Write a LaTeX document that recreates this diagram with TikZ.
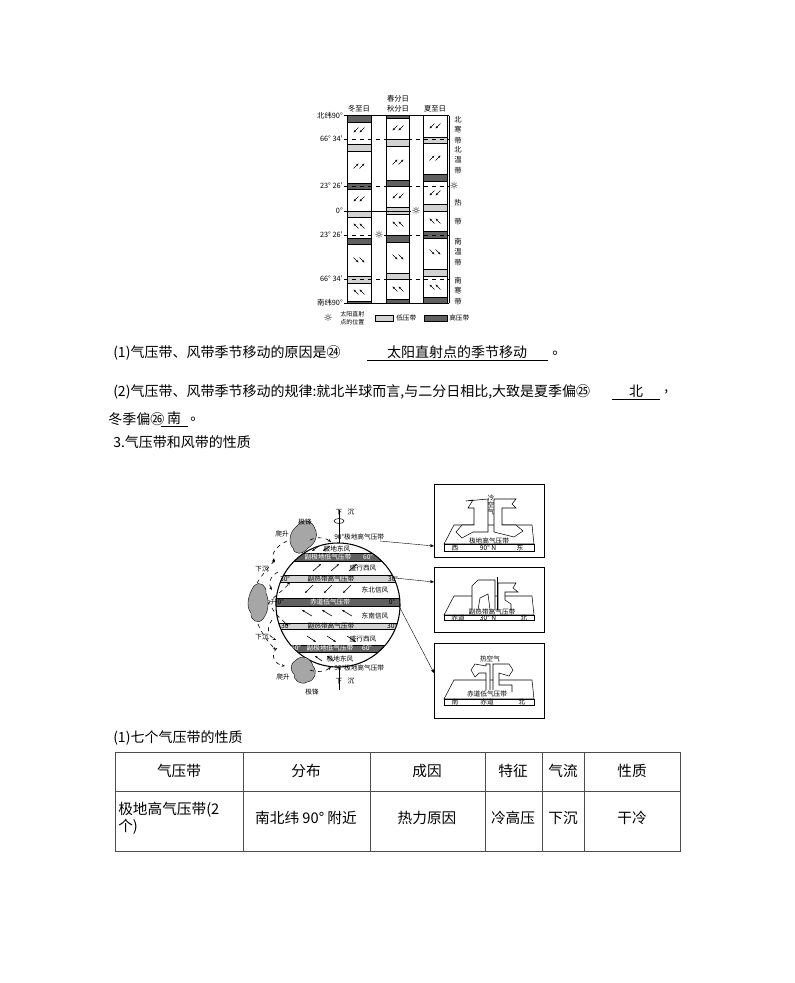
\documentclass[tikz,border=0pt]{standalone}
\usepackage{fontspec}
\setmainfont{Noto Sans CJK SC}
\newfontfamily\symfont{DejaVu Sans}
\usetikzlibrary{arrows.meta}
\begin{document}
\begin{tikzpicture}[x=0.75pt,y=-0.75pt,
  tiny/.style={font=\fontsize{5}{5.5}\selectfont,inner sep=0pt},
  small/.style={font=\fontsize{5.5}{6}\selectfont,inner sep=0pt},
  vsmall/.style={font=\fontsize{5.5}{8}\selectfont,inner sep=0pt,align=center},
  body/.style={font=\fontsize{10.5}{12}\selectfont,inner sep=0pt,anchor=west},
  cell/.style={font=\fontsize{11}{13}\selectfont,inner sep=0pt,align=center},
  lowp/.style={fill=gray!35,draw=black,line width=0.3pt},
  highp/.style={fill=gray!75!black,draw=black,line width=0.3pt},
  dl/.style={dashed,line width=0.5pt},
  wa/.style={-{Stealth[length=2pt,width=1.6pt]},line width=0.45pt},
  conn/.style={-{Stealth[length=3pt,width=2.4pt]},line width=0.3pt},
  box/.style={draw,line width=0.6pt},
  blk/.style={draw,fill=white,line width=0.4pt},
  sun/.style={font=\symfont\fontsize{7.5}{7.5}\selectfont,inner sep=0pt,fill=white}]
\useasboundingbox (0,0) rectangle (794,983);
% ===== top diagram =====
\foreach \x/\n in {347.5/a,386/b,423.5/c}{
  \draw[line width=0.6pt] (\x,115.5) rectangle ++(23.5,187.5);}
\draw[highp] (347.5,115.5) rectangle (371,122);
\draw[lowp] (347.5,144) rectangle (371,151);
\draw[highp] (347.5,183) rectangle (371,189);
\draw[lowp] (347.5,211) rectangle (371,217);
\draw[highp] (347.5,238) rectangle (371,244);
\draw[lowp] (347.5,276) rectangle (371,283);
\draw[highp] (347.5,301) rectangle (371,303);
\draw[highp] (386,115.5) rectangle (409.5,118);
\draw[lowp] (386,139) rectangle (409.5,146);
\draw[highp] (386,180) rectangle (409.5,186);
\draw[lowp] (386,207) rectangle (409.5,214);
\draw[highp] (386,235) rectangle (409.5,242);
\draw[lowp] (386,273) rectangle (409.5,279);
\draw[highp] (386,299) rectangle (409.5,303);
\draw[lowp] (423.5,137) rectangle (447,143);
\draw[highp] (423.5,174) rectangle (447,181);
\draw[lowp] (423.5,204) rectangle (447,211);
\draw[highp] (423.5,231) rectangle (447,238);
\draw[lowp] (423.5,269) rectangle (447,276);
\draw[highp] (423.5,297) rectangle (447,303);
\draw[line width=0.6pt] (344,115.5) -- (449,115.5);
\draw[line width=0.6pt] (344,303) -- (449,303);
\draw[line width=0.6pt] (449,115.5) -- (449,303);
\draw[line width=0.5pt] (344,211) -- (411,211);
\foreach \y in {139,186,235,279}{\draw[dl] (344,\y) -- (449,\y);}
\foreach \x/\ys in {359/{130,166,199,226,260,292},398/{128,162,196,224,257,289},435/{126,158,193,221,252,287}}{
  \foreach \y [count=\i] in \ys {
    \ifcase\i\or\def\ang{135}\or\def\ang{-45}\or\def\ang{135}\or\def\ang{225}\or\def\ang{45}\or\def\ang{225}\fi
    \foreach \dx in {-3,3}{
      \draw[wa] (\x+\dx,\y) ++(\ang+180:3.5) -- ++(\ang:7);}
  }}
\foreach \y/\t in {115.5/北纬90°,139/66° 34′,186/23° 26′,211/0°,235/23° 26′,279/66° 34′,303/南纬90°}{
  \node[small,anchor=east] (l\y) at (343,\y) {\t};}
\node[small] (h1) at (359,109) {冬至日};
\node[small] (h2a) at (398,99) {春分日};
\node[small] (h2b) at (398,109) {秋分日};
\node[small] (h3) at (435,109) {夏至日};
\node[vsmall] (z1) at (458,130) {北\\寒\\带};
\node[vsmall] (z2) at (458,160) {北\\温\\带};
\node[small] (z3a) at (458,203) {热};
\node[small] (z3b) at (458,222) {带};
\node[vsmall] (z4) at (458,252) {南\\温\\带};
\node[vsmall] (z5) at (458,291) {南\\寒\\带};
\node[sun] (s1) at (379,235) {☼};
\node[sun] (s2) at (416,211) {☼};
\node[sun] (s3) at (454,186) {☼};
\node[sun,fill=none] (s4) at (328,318) {☼};
\node[font=\fontsize{4.5}{6}\selectfont,inner sep=0pt,align=left,anchor=west] (lg1) at (340,318) {太阳直射\\点的位置};
\draw[lowp] (375,315) rectangle (393,321);
\node[tiny,anchor=west] (lg2) at (396,318) {低压带};
\draw[highp] (424,315) rectangle (447,321);
\node[tiny,anchor=west] (lg3) at (449,318) {高压带};
% ===== text =====
\node[body] (t1) at (113,353) {(1)气压带、风带季节移动的原因是㉔};
\node[body,anchor=center] (t1a) at (457,352) {太阳直射点的季节移动};
\draw[line width=0.5pt] (367,360) -- (548,360);
\node[body] (t1b) at (552,353) {。};
\node[body] (t2) at (113,392) {(2)气压带、风带季节移动的规律:就北半球而言,与二分日相比,大致是夏季偏㉕};
\node[body,anchor=center] (t2a) at (636,391) {北};
\draw[line width=0.5pt] (612,399) -- (660,399);
\node[body] (t2b) at (664,392) {,};
\node[body] (t3) at (108,419) {冬季偏㉖};
\node[body,anchor=center] (t3a) at (174,418) {南};
\draw[line width=0.5pt] (161,426) -- (188,426);
\node[body] (t3b) at (190,419) {。};
\node[body] (t4) at (113,442) {3.气压带和风带的性质};
% ===== globe =====
\begin{scope}
\clip (338,605) circle (62);
\fill[gray!75!black] (270,553) rectangle (410,561);
\fill[gray!35] (270,575) rectangle (410,582);
\fill[gray!75!black] (270,598) rectangle (410,606);
\fill[gray!35] (270,623) rectangle (410,629);
\fill[gray!75!black] (270,645) rectangle (410,652);
\foreach \y in {553,561,575,582,598,606,623,629,645,652}{\draw[line width=0.3pt](270,\y)--(410,\y);}
\end{scope}
\draw[line width=0.8pt] (338,605) circle (62);
\draw[line width=0.5pt] (339,510) -- (339,543);
\draw[line width=0.5pt] (339,667) -- (339,690);
\draw[line width=0.4pt] (339,521) ellipse (5 and 2.5);
\node[tiny] (xc1) at (345,512) {下\hspace{4pt}沉};
\node[tiny] (xc2) at (345,681) {下\hspace{4pt}沉};
\node[tiny,anchor=west] (b0) at (334,537) {90°极地高气压带};
\node[tiny] (b1) at (337,549) {极地东风};
\node[tiny,text=white] (b2l) at (291,557) {60°};
\node[tiny,text=white] (b2) at (328,557) {副极地低气压带};
\node[tiny,text=white] (b2r) at (368,557) {60°};
\node[tiny] (b3) at (363,568) {盛行西风};
\node[tiny] (b4l) at (285,579) {30°};
\node[tiny] (b4) at (331,579) {副热带高气压带};
\node[tiny] (b4r) at (393,579) {30°};
\node[tiny] (b5) at (375,590) {东北信风};
\node[tiny,anchor=east] (b6l) at (284,602) {上升0°};
\node[tiny,text=white] (b6) at (330,602) {赤道低气压带};
\node[tiny] (b6r) at (392,602) {0°};
\node[tiny] (b7) at (375,616) {东南信风};
\node[tiny] (b8l) at (286,626) {30°};
\node[tiny] (b8) at (331,626) {副热带高气压带};
\node[tiny] (b8r) at (392,626) {30°};
\node[tiny] (b9) at (363,639) {盛行西风};
\node[tiny,text=white] (b10l) at (296,648) {60°};
\node[tiny,text=white] (b10) at (330,648) {副极地低气压带};
\node[tiny,text=white] (b10r) at (367,648) {60°};
\node[tiny] (b11) at (340,659) {极地东风};
\node[tiny,anchor=west] (b12) at (334,668) {90°极地高气压带};
\foreach \x in {315,326}{\draw[wa] (\x+4,546) -- (\x-3,551);}
\foreach \x in {318,336,354}{\draw[wa] (\x-5,571) -- (\x+3,564);}
\foreach \x in {308,327,346}{\draw[wa] (\x+5,585) -- (\x-3,593);}
\foreach \x in {306,326,346}{\draw[wa] (\x+6,616) -- (\x-4,610);}
\foreach \x in {312,332,352}{\draw[wa] (\x-5,636) -- (\x+4,642);}
\foreach \x in {318,330}{\draw[wa] (\x+4,661) -- (\x-3,656);}
% clouds
\fill[gray!70,draw=black,line width=0.3pt] (297,526) .. controls (303,517) and (313,521) .. (315,529)
  .. controls (319,536) and (314,545) .. (308,548) .. controls (303,555) and (294,555) .. (293,548)
  .. controls (288,543) and (289,532) .. cycle;
\fill[gray!70,draw=black,line width=0.3pt] (254,586) .. controls (260,580) and (267,586) .. (266,593)
  .. controls (270,602) and (268,613) .. (263,619) .. controls (258,625) and (250,620) .. (251,613)
  .. controls (245,606) and (249,593) .. cycle;
\fill[gray!70,draw=black,line width=0.3pt] (296,660) .. controls (302,654) and (311,658) .. (313,666)
  .. controls (318,672) and (315,681) .. (307,682) .. controls (301,686) and (293,680) .. (294,674)
  .. controls (289,669) and (291,663) .. cycle;
\node[tiny] (pa1) at (282,534) {爬升};
\node[tiny] (jf1) at (305,522) {极锋};
\node[tiny] (xc3) at (262,569) {下沉};
\node[tiny] (xc4) at (262,637) {下沉};
\node[tiny] (pa2) at (283,677) {爬升};
\node[tiny] (jf2) at (312,692) {极锋};
\begin{scope}[dashed,line width=0.45pt,-{Stealth[length=2.5pt,width=2pt]}]
\draw (287,541) .. controls (276,546) and (270,555) .. (275,562);
\draw (310,540) .. controls (318,536) and (326,538) .. (331,542);
\draw (278,572) .. controls (270,576) and (268,584) .. (272,590);
\draw (268,604) .. controls (274,596) and (284,590) .. (290,582);
\draw (272,608) .. controls (276,616) and (283,620) .. (288,626);
\draw (272,620) .. controls (266,628) and (268,636) .. (276,640);
\draw (277,648) .. controls (270,655) and (274,664) .. (285,666);
\draw (310,670) .. controls (318,673) and (326,671) .. (331,667);
\draw (257,583) .. controls (262,575) and (268,568) .. (275,560);
\draw (258,624) .. controls (262,634) and (268,642) .. (276,650);
\end{scope}
% boxes
\draw[box] (434,484) rectangle (544,557);
\draw[box] (434,567) rectangle (544,632);
\draw[box] (434,643) rectangle (544,718);
\coordinate (g1) at (380,541);
\coordinate (g2) at (395,578);
\coordinate (g3) at (399,606);
\draw[conn] (g1) -- (434,546);
\draw[conn] (g2) -- (434,582);
\draw[conn] (g3) -- (434,673);
% box1
\draw[line width=0.4pt] (444,544) -- (454,525) -- (532,525) -- (534,544) -- cycle;
\draw[line width=0.4pt] (444,544) rectangle (534,551);
\draw[blk] (474,517) -- (474,508) -- (468,508) -- (473,500) -- (466,501) -- (488,499) -- (488,532) -- (473,532) -- (462,538) -- (456,532) -- (462,525) -- (474,525) -- cycle;
\draw[blk] (494,532) -- (494,499) -- (516,499) -- (512,504) -- (516,508) -- (502,508) -- (502,525) -- (516,525) -- (523,531) -- (514,537) -- cycle;
\node[tiny,align=center] (k1) at (491,505) {冷\\空\\气};
\node[tiny] (k2) at (489,541) {极地高气压带};
\node[tiny] (k3) at (455,548) {西};
\node[tiny] (k4) at (488,548) {90° N};
\node[tiny] (k5) at (520,548) {东};
% box2
\draw[line width=0.4pt] (444,615) -- (454,596) -- (532,596) -- (534,615) -- cycle;
\draw[line width=0.4pt] (444,615) rectangle (534,620);
\draw[blk] (472,610) -- (472,586) -- (478,580) -- (495,580) -- (495,610);
\draw[blk] (498,610) -- (498,583) -- (516,583) -- (513,588) -- (518,592) -- (505,592) -- (505,600) -- (511,604) -- (511,610);
\draw[line width=0.5pt] (497,577) -- (497,610);
\draw[line width=0.4pt] (478,610) -- (480,598) -- (488,594) -- (490,610);
\node[tiny] (k6) at (492,612) {副热带高气压带};
\node[tiny] (k7) at (458,618) {赤道};
\node[tiny] (k8) at (488,618) {30° N};
\node[tiny] (k9) at (524,618) {北};
% box3
\draw[line width=0.4pt] (444,699) -- (454,680) -- (532,680) -- (534,699) -- cycle;
\draw[line width=0.4pt] (444,699) rectangle (534,705);
\draw[blk] (486,690) -- (486,673) -- (479,673) -- (475,677) -- (471,670) -- (475,664) -- (486,666) -- (486,664) -- (490,664) -- (490,690);
\draw[blk] (493,690) -- (493,664) -- (509,664) -- (513,670) -- (509,676) -- (499,673) -- (499,685) -- (512,685) -- (512,692);
\node[tiny] (k10) at (490,659) {热空气};
\node[tiny] (k11) at (487,694) {赤道低气压带};
\node[tiny] (k12) at (455,702) {南};
\node[tiny] (k13) at (487,702) {赤道};
\node[tiny] (k14) at (522,702) {北};
% ===== table =====
\node[body] (t5) at (113,738) {(1)七个气压带的性质};
\draw[line width=0.4pt,gray!60!black] (115,752) rectangle (680,851);
\draw[line width=0.4pt,gray!60!black] (115,791) -- (680,791);
\foreach \x in {243,370,485,542,584}{\draw[line width=0.4pt,gray!60!black] (\x,752) -- (\x,851);}
\node[cell] (c1) at (179,771) {气压带};
\node[cell] (c2) at (306,771) {分布};
\node[cell] (c3) at (427,771) {成因};
\node[cell] (c4) at (513,771) {特征};
\node[cell] (c5) at (563,771) {气流};
\node[cell] (c6) at (632,771) {性质};
\node[cell,align=left,anchor=west] (d1) at (118,818) {极地高气压带(2\\个)};
\node[cell] (d2) at (306,818) {南北纬 90° 附近};
\node[cell] (d3) at (427,818) {热力原因};
\node[cell] (d4) at (513,818) {冷高压};
\node[cell] (d5) at (563,818) {下沉};
\node[cell] (d6) at (632,818) {干冷};
\end{tikzpicture}
\end{document}
